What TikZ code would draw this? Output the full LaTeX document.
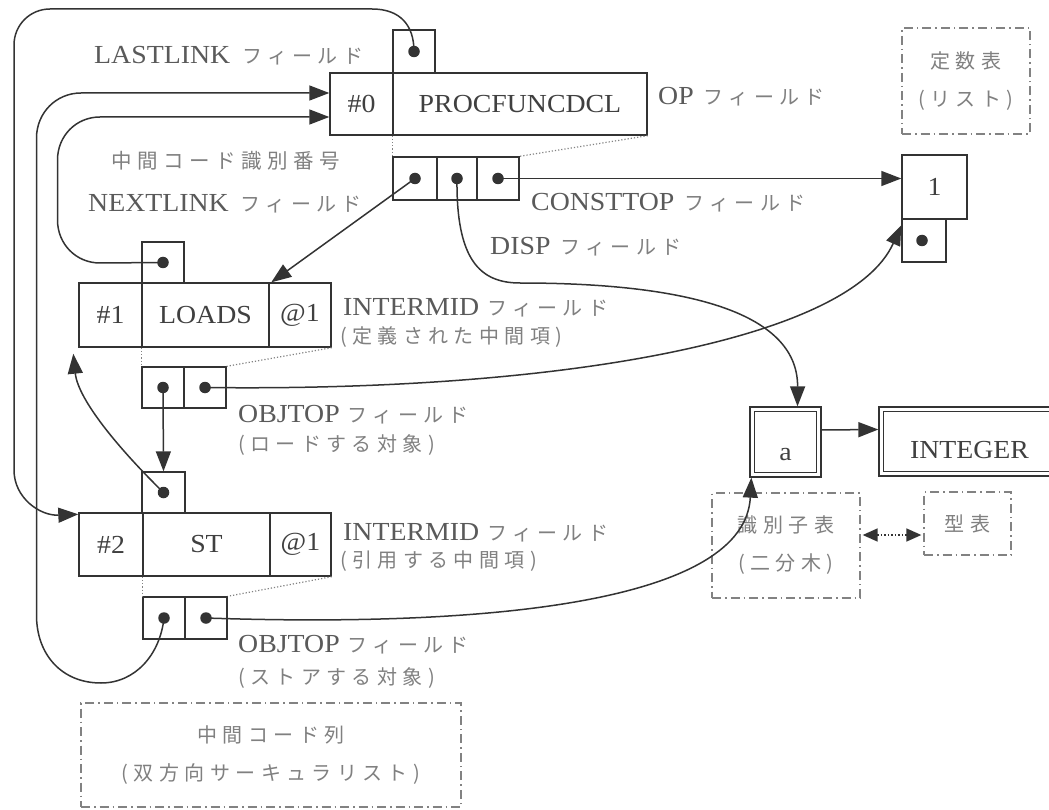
\documentclass[tikz,border=0pt]{standalone}
\usepackage{fontspec}
\setmainfont{Liberation Serif}[FakeStretch=1.07]
\newfontfamily\jp{Noto Sans CJK JP}[LetterSpace=27]
\usetikzlibrary{arrows.meta,calc}
\definecolor{ln}{HTML}{333333}
\definecolor{ctx}{HTML}{404040}
\definecolor{ltx}{HTML}{5A5A5A}
\definecolor{jtx}{HTML}{808080}
\definecolor{dd}{HTML}{828282}
\newcommand\LF[1]{{\color{ltx}\fontsize{26}{30}\selectfont #1}}
\newcommand\JF[1]{{\jp\color{jtx}\fontsize{20}{22}\selectfont #1}}
\begin{document}
\begin{tikzpicture}[x=1pt,y=-1pt,
  cell/.style={draw=ln, line width=1.4pt, inner sep=0pt, text=ctx, font=\fontsize{26}{30}\selectfont},
  dot/.style={circle, fill=ln, inner sep=0pt, minimum size=11.5pt},
  lnk/.style={draw=ln, line width=1.5pt, -{Triangle[length=20pt,width=15pt]}},
  dotl/.style={draw=dd, line width=1.2pt, dotted},
  tbl/.style={draw=dd, line width=1.3pt, dash pattern=on 9pt off 4pt on 1.5pt off 4pt, inner sep=0pt, align=center, text=jtx, font=\jp\fontsize{20}{38}\selectfont},
  lab/.style={anchor=west, inner sep=0pt},
  dbl/.style={draw=ln, line width=1.3pt, inner sep=0pt, text=ctx, font=\fontsize{26}{30}\selectfont},
  inner/.style={draw=ln, line width=1.1pt}]
\useasboundingbox (0,0) rectangle (1049,810);
\fill[white] (0,0) rectangle (1049,810);

% #0 record
\node[cell, minimum width=42pt, minimum height=43pt] (lastb) at (414,51.5) {};
\node[cell, minimum width=63pt, minimum height=62pt] (c00) at (361.5,104) {\#0};
\node[cell, minimum width=254pt, minimum height=62pt] (c01) at (520,104) {PROCFUNCDCL};
\node[cell, minimum width=44pt, minimum height=43pt] (f00) at (415,178.5) {};
\node[cell, minimum width=40pt, minimum height=43pt] (f01) at (457,178.5) {};
\node[cell, minimum width=42pt, minimum height=43pt] (f02) at (498,178.5) {};

% #1 record
\node[cell, minimum width=42pt, minimum height=41pt] (nb) at (163,262.5) {};
\node[cell, minimum width=63pt, minimum height=64pt] (c10) at (110.5,315) {\#1};
\node[cell, minimum width=127pt, minimum height=64pt] (c11) at (205.5,315) {LOADS};
\node[cell, minimum width=62pt, minimum height=64pt] (c12) at (300,315) {@1};
\node[cell, minimum width=42pt, minimum height=41pt] (l0) at (163,387.5) {};
\node[cell, minimum width=42pt, minimum height=41pt] (l1) at (205,387.5) {};

% #2 record
\node[cell, minimum width=43pt, minimum height=41pt] (sb) at (163.5,492.5) {};
\node[cell, minimum width=64pt, minimum height=63pt] (c20) at (111,544.5) {\#2};
\node[cell, minimum width=127pt, minimum height=63pt] (c21) at (206.5,544.5) {ST};
\node[cell, minimum width=61pt, minimum height=63pt] (c22) at (300.5,544.5) {@1};
\node[cell, minimum width=42pt, minimum height=42pt] (s0) at (164,618) {};
\node[cell, minimum width=42pt, minimum height=42pt] (s1) at (206,618) {};

% constant table entry
\node[cell, minimum width=65pt, minimum height=64pt] (one) at (934.5,187) {1};
\node[cell, minimum width=44pt, minimum height=43pt] (oneb) at (924,240.5) {};

% identifier and type (double frames)
\node[dbl, minimum width=71pt, minimum height=70pt, text height=36pt, text depth=0pt] (ca) at (785.5,442) {a};
\draw[inner] ([xshift=5pt,yshift=-5pt]ca.north west) rectangle ([xshift=-5pt,yshift=5pt]ca.south east);
\node[dbl, minimum width=181pt, minimum height=69pt, text height=33pt, text depth=0pt] (cint) at (969.5,441.5) {INTEGER};
\draw[inner] ([xshift=5pt,yshift=-5pt]cint.north west) rectangle ([xshift=-5pt,yshift=5pt]cint.south east);

% dots
\node[dot] (dlast) at (lastb.center) {};
\node[dot] (df0) at (f00.center) {};
\node[dot] (df1) at (f01.center) {};
\node[dot] (df2) at (f02.center) {};
\node[dot] (dnb) at (nb.center) {};
\node[dot] (dl0) at (l0.center) {};
\node[dot] (dl1) at (l1.center) {};
\node[dot] (dsb) at (sb.center) {};
\node[dot] (ds0) at (s0.center) {};
\node[dot] (ds1) at (s1.center) {};
\node[dot] (done) at ([xshift=-2pt]oneb.center) {};

% dotted guide lines
\draw[dotl] (c01.south west) -- (f00.north west);
\draw[dotl] (c01.south east) -- (f02.north east);
\draw[dotl] (c11.south west) -- (l0.north west);
\draw[dotl] (c12.south east) -- (l1.north east);
\draw[dotl] (c21.south west) -- (s0.north west);
\draw[dotl] (c22.south east) -- (s1.north east);

% tables (dash-dot boxes)
\node[tbl, minimum width=128pt, minimum height=106pt] (tconst) at (966,81) {定数表\\(リスト)};
\node[tbl, minimum width=148pt, minimum height=105pt] (tid) at (786,545.5) {識別子表\\(二分木)};
\node[tbl, minimum width=87pt, minimum height=63pt] (ttype) at (967.5,523.5) {型表};
\node[tbl, minimum width=380pt, minimum height=104pt] (tcode) at (271,755) {中間コード列\\(双方向サーキュラリスト)};

% labels
\node[lab] (labLast) at (94,56) {\LF{LASTLINK}\hspace{12pt}\JF{フィールド}};
\node[lab] (labOP) at (658,97) {\LF{OP}\hspace{10pt}\JF{フィールド}};
\node[lab] (labID) at (111,161) {{\jp\color{jtx}\fontsize{20.5}{22}\selectfont 中間コード識別番号}};
\node[lab] (labNext) at (88,204) {\LF{NEXTLINK}\hspace{12pt}\JF{フィールド}};
\node[lab] (labConst) at (531,203) {\LF{CONSTTOP}\hspace{10pt}\JF{フィールド}};
\node[lab] (labDisp) at (490,247) {\LF{DISP}\hspace{10pt}\JF{フィールド}};
\node[lab] (labIM1) at (343,308) {\LF{INTERMID}\hspace{8pt}\JF{フィールド}};
\node[lab] (labIM1b) at (340,337) {\JF{(定義された中間項)}};
\node[lab] (labOB1) at (238,415) {\LF{OBJTOP}\hspace{8pt}\JF{フィールド}};
\node[lab] (labOB1b) at (238,445) {\JF{(ロードする対象)}};
\node[lab] (labIM2) at (343,533) {\LF{INTERMID}\hspace{8pt}\JF{フィールド}};
\node[lab] (labIM2b) at (340,561) {\JF{(引用する中間項)}};
\node[lab] (labOB2) at (238,645) {\LF{OBJTOP}\hspace{8pt}\JF{フィールド}};
\node[lab] (labOB2b) at (238,678) {\JF{(ストアする対象)}};

% connectors
% LASTLINK of #0 -> #2
\draw[lnk] (dlast.center) .. controls (414,25) and (400,9) .. (372,9) -- (50,9)
  .. controls (30,9) and (14,25) .. (14,45) -- (14,470)
  .. controls (14,498) and (40,516) .. ([yshift=-2pt]c20.north west);
% NEXTLINK of #2 -> #0
\draw[lnk] (ds0.center) .. controls (160,655) and (135,683) .. (101,683)
  .. controls (62,683) and (36.5,655) .. (36.5,615) -- (36.5,138)
  .. controls (36.5,113) and (56,93) .. (81,93) -- ([yshift=11pt]c00.west);
% NEXTLINK of #1 -> #0
\draw[lnk] (dnb.center) -- (100,263) .. controls (76,263) and (57.5,244) .. (57.5,220)
  -- (57.5,160) .. controls (57.5,136) and (76,117) .. (100,117) -- ([yshift=-13pt]c00.west);
% NEXTLINK of #0 -> #1
\draw[lnk] (df0.center) -- ([xshift=3pt]c12.north west);
% DISP -> a
\draw[lnk] (df1.center) .. controls (456,260) and (480,283) .. (520,283)
  .. controls (680,283) and (798,310) .. ([xshift=12pt]ca.north);
% CONSTTOP -> 1
\draw[lnk] (df2.center) -- (df2.center -| one.west);
% NEXTLINK of #1 -> #2
\draw[lnk] (dl0.center) -- (sb.north);
% LASTLINK of #2 -> #1
\draw[lnk] (dsb.center) .. controls (120,450) and (78,400) .. ([xshift=-5pt,yshift=-6pt]c10.south west);
% OBJTOP of #1 -> constant
\draw[lnk] (dl1.center) .. controls (560,392) and (850,340) .. ([yshift=-7pt]oneb.north west);
% OBJTOP of #2 -> a
\draw[lnk] (ds1.center) .. controls (500,628) and (745,600) .. ([xshift=2pt]ca.south west);
% a -> INTEGER
\draw[lnk] ([yshift=12pt]ca.east) -- ([yshift=12pt]cint.west);
% identifier table <-> type table
\draw[draw=ln, line width=1.5pt, dotted, {Triangle[length=15pt,width=13pt]}-{Triangle[length=15pt,width=13pt]}]
  ([xshift=2pt,yshift=10.5pt]tid.east) -- ([xshift=-2pt,yshift=-11.5pt]ttype.west);
\end{tikzpicture}
\end{document}
